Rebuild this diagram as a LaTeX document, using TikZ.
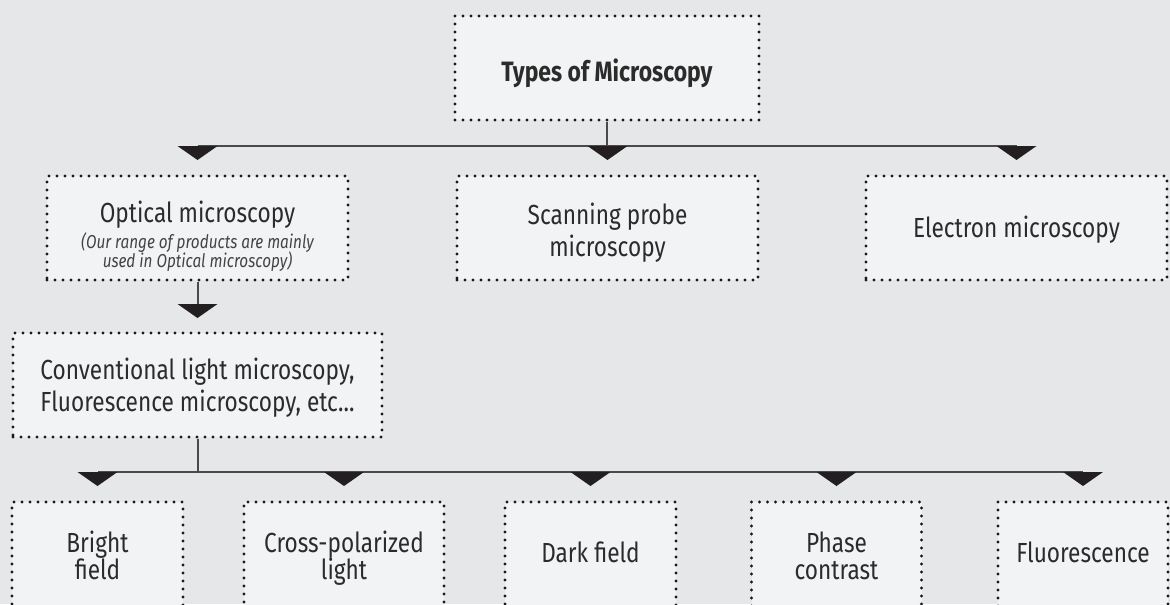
\documentclass[tikz,border=0pt]{standalone}
\usepackage{fontspec}
\setmainfont{Fira Sans}[FakeStretch=0.82]
\definecolor{bg}{HTML}{E6E7E9}
\definecolor{boxfill}{HTML}{F2F3F5}
\definecolor{dotcol}{HTML}{1A1A1A}
\definecolor{txt}{HTML}{2B2B2B}
\definecolor{itxt}{HTML}{444444}
\definecolor{linecol}{HTML}{4A4A4A}
\definecolor{tri}{HTML}{231F20}
\tikzset{
  dbox/.style={draw=dotcol, fill=boxfill, line width=2.4pt, dash pattern=on 0pt off 6pt,
    line cap=round, inner sep=0pt},
  lbl/.style={anchor=base, inner sep=0pt, text=txt, font=\fontsize{20.7}{24}\selectfont,
    text height=12pt, text depth=3pt},
  ilbl/.style={lbl, text=itxt, font=\fontsize{14}{16}\selectfont\itshape, text height=9pt, text depth=2pt},
  tlbl/.style={lbl, font=\fontsize{21}{24}\selectfont\bfseries},
  conn/.style={draw=linecol, line width=1.5pt},
  tip/.style={fill=tri}
}
\newcommand{\downtri}[1]{\fill[tip] #1 ++(-20,0) -- ++(40,0) -- ++(-20,14) -- cycle;}
\begin{document}
\begin{tikzpicture}[x=0.75pt,y=-0.75pt]
\useasboundingbox (0,0) rectangle (1170,604);
\clip (0,0) rectangle (1170,604);
\fill[bg] (0,0) rectangle (1170,604);
% boxes
\node[dbox, minimum width=228pt, minimum height=78pt] (top) at (607,68) {};
\node[dbox, minimum width=225.75pt, minimum height=78pt] (opt) at (197.5,228) {};
\node[dbox, minimum width=225.75pt, minimum height=78pt] (scan) at (607.5,228) {};
\node[dbox, minimum width=225.75pt, minimum height=78pt] (ele) at (1016.5,228) {};
\node[dbox, minimum width=276.75pt, minimum height=78pt] (conv) at (197.5,385) {};
\node[dbox, minimum width=128.25pt, minimum height=81pt] (bri) at (97.5,556) {};
\node[dbox, minimum width=150pt, minimum height=81pt] (cro) at (344,556) {};
\node[dbox, minimum width=128.25pt, minimum height=81pt] (dar) at (590.5,556) {};
\node[dbox, minimum width=127.5pt, minimum height=81pt] (pha) at (836.5,556) {};
\node[dbox, minimum width=127.5pt, minimum height=81pt] (flu) at (1083,556) {};
% labels
\node[tlbl] (topL) at (607,81) {Types of Microscopy};
\node[lbl] (optL) at (197.5,222) {Optical microscopy};
\node[ilbl] (optI1) at (197.5,248) {(Our range of products are mainly};
\node[ilbl] (optI2) at (197.5,267) {used in Optical microscopy)};
\node[lbl] (scanL1) at (607.5,224) {Scanning probe};
\node[lbl] (scanL2) at (607.5,256) {microscopy};
\node[lbl] (eleL) at (1016.5,237) {Electron microscopy};
\node[lbl] (convL1) at (197.5,379) {Conventional light microscopy,};
\node[lbl] (convL2) at (197.5,411) {Fluorescence microscopy, etc...};
\node[lbl] (briL1) at (97.5,552) {Bright};
\node[lbl] (briL2) at (97.5,579) {field};
\node[lbl] (croL1) at (344,552) {Cross-polarized};
\node[lbl] (croL2) at (344,579) {light};
\node[lbl] (darL) at (590.5,562) {Dark field};
\node[lbl] (phaL1) at (836.5,552) {Phase};
\node[lbl] (phaL2) at (836.5,579) {contrast};
\node[lbl] (fluL) at (1083,562) {Fluorescence};
% connectors level 1
\coordinate (bus1) at (607,146);
\draw[conn] (top.south) -- (bus1);
\draw[conn] (opt.north |- bus1) -- (ele.north |- bus1);
\downtri{(opt.north |- bus1)}
\downtri{(scan.north |- bus1)}
\downtri{(ele.north |- bus1)}
% optical to conventional
\coordinate (bus2) at (197.5,304);
\draw[conn] (opt.south) -- (bus2);
\downtri{(conv.north |- bus2)}
% conventional to bottom
\coordinate (bus3) at (197.5,472);
\draw[conn] (conv.south) -- (bus3);
\draw[conn] (bri.north |- bus3) -- (flu.north |- bus3);
\downtri{(bri.north |- bus3)}
\downtri{(cro.north |- bus3)}
\downtri{(dar.north |- bus3)}
\downtri{(pha.north |- bus3)}
\downtri{(flu.north |- bus3)}
\end{tikzpicture}
\end{document}
